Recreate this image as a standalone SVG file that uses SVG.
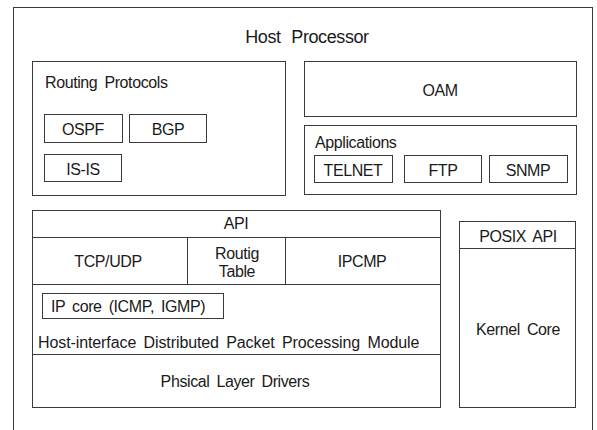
<svg xmlns="http://www.w3.org/2000/svg" width="597" height="430" viewBox="0 0 597 430">
<style>
rect{fill:none;stroke:#3a3a3a;stroke-width:1}
line{stroke:#3a3a3a;stroke-width:1}
text{font-family:"Liberation Sans",Arial,sans-serif;font-size:16px;letter-spacing:-0.4px;fill:#1a1a1a;word-spacing:3px}
.c{text-anchor:middle}
</style>
<rect x="0" y="0" width="597" height="430" style="fill:#fff;stroke:none"/>
<g id="host">
<rect x="13.5" y="7.5" width="579" height="430"/>
<text x="307" y="43" class="c" style="font-size:18px;word-spacing:6px">Host Processor</text>
</g>
<g id="routing-protocols">
<rect x="32.5" y="61.5" width="253" height="134"/>
<text x="45" y="88">Routing Protocols</text>
</g>
<g id="ospf"><rect x="44.5" y="114.5" width="78" height="28"/><text x="83" y="135" class="c">OSPF</text></g>
<g id="bgp"><rect x="129.5" y="114.5" width="77" height="28"/><text x="168" y="135" class="c">BGP</text></g>
<g id="isis"><rect x="44.5" y="154.5" width="77" height="27"/><text x="83" y="175" class="c">IS-IS</text></g>
<g id="oam"><rect x="304.5" y="61.5" width="272" height="55"/><text x="440" y="96" class="c">OAM</text></g>
<g id="applications">
<rect x="304.5" y="125.5" width="272" height="69"/>
<text x="315" y="148">Applications</text>
</g>
<g id="telnet"><rect x="314.5" y="155.5" width="78" height="27"/><text x="353" y="176" class="c">TELNET</text></g>
<g id="ftp"><rect x="404.5" y="155.5" width="77" height="27"/><text x="443" y="176" class="c">FTP</text></g>
<g id="snmp"><rect x="489.5" y="155.5" width="78" height="27"/><text x="528" y="176" class="c">SNMP</text></g>
<g id="stack">
<rect x="32.5" y="210.5" width="408" height="197"/>
</g>
<g id="api"><text x="236" y="229" class="c">API</text></g>
<g id="tcpudp"><text x="108" y="267" class="c">TCP/UDP</text></g>
<g id="routing-table"><text x="237" y="259" class="c">Routig</text><text x="237" y="277" class="c">Table</text></g>
<g id="ipcmp"><text x="362" y="267" class="c">IPCMP</text></g>
<g id="ip-core"><rect x="42.5" y="293.5" width="181" height="25"/><text x="51" y="312">IP core (ICMP, IGMP)</text></g>
<g id="hdppm"><text x="38" y="348" textLength="381">Host-interface Distributed Packet Processing Module</text></g>
<g id="phy"><text x="235" y="387" class="c">Phsical Layer Drivers</text></g>
<g id="posix">
<rect x="459.5" y="221.5" width="116" height="186"/>
<text x="518" y="242" class="c">POSIX API</text>
<text x="518" y="335" class="c">Kernel Core</text>
</g>
<g id="connectors">
<line x1="32" y1="237.5" x2="441" y2="237.5"/>
<line x1="187.5" y1="237" x2="187.5" y2="284"/>
<line x1="285.5" y1="237" x2="285.5" y2="284"/>
<line x1="32" y1="284.5" x2="441" y2="284.5"/>
<line x1="32" y1="354.5" x2="441" y2="354.5"/>
<line x1="459" y1="248.5" x2="576" y2="248.5"/>
</g>
</svg>
